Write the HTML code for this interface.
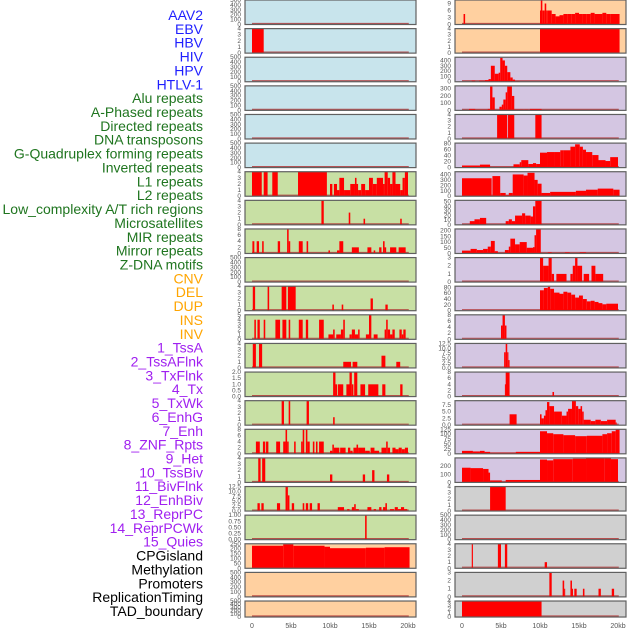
<!DOCTYPE html>
<html><head><meta charset="utf-8">
<style>
html,body{margin:0;padding:0;background:#fff;}
svg{display:block;font-family:"Liberation Sans",sans-serif;}
</style></head>
<body>
<svg id="chart" width="630" height="630" viewBox="0 0 630 630"></svg>
<script>
const labels = ["AAV2","EBV","HBV","HIV","HPV","HTLV-1","Alu repeats","A-Phased repeats","Directed repeats","DNA transposons","G-Quadruplex forming repeats","Inverted repeats","L1 repeats","L2 repeats","Low_complexity A/T rich regions","Microsatellites","MIR repeats","Mirror repeats","Z-DNA motifs","CNV","DEL","DUP","INS","INV","1_TssA","2_TssAFlnk","3_TxFlnk","4_Tx","5_TxWk","6_EnhG","7_Enh","8_ZNF_Rpts","9_Het","10_TssBiv","11_BivFlnk","12_EnhBiv","13_ReprPC","14_ReprPCWk","15_Quies","CPGisland","Methylation","Promoters","ReplicationTiming","TAD_boundary"];
const labelGroups = [0,0,0,0,0,0,1,1,1,1,1,1,1,1,1,1,1,1,1,2,2,2,2,2,3,3,3,3,3,3,3,3,3,3,3,3,3,3,3,4,4,4,4,4];
const groupColors = ["#1f1fff","#1f751f","#ffa500","#a020f0","#000000"];
const xTickKb = [0,5,10,15,20];
const xTickLabels = ["0","5kb","10kb","15kb","20kb"];
const emptyTicks = [0,100,200,300,400,500];
const ticks4 = [0,1,2,3,4];
const ticks8 = [0,2,4,6,8];

const segsL1 = [[0,1.5,4]];
const segsL6 = [[0,1.25,4],[1.5,2,4],[2.6,3.3,4],[5.9,9.6,4],[10,10.3,2],[10.5,10.9,2],[10.9,11.2,1],[11.2,11.8,3],[11.8,12.6,1],[12.6,13.2,2],[13.2,13.4,3],[13.4,13.6,2],[13.6,14,1],[14,14.5,2],[14.5,15,1],[15,15.5,3],[15.5,16,2],[16,16.8,3],[16.8,17,2],[17,17.4,4],[17.4,17.7,3],[17.7,18,2],[18,18.4,4],[18.4,19,2],[19,19.3,1],[19.3,19.6,3],[19.6,20,4]];
const segsL7 = [[8.9,9.2,4],[12.4,12.6,2],[14.3,14.5,1],[19,19.2,1]];
const segsL8 = [[0.05,0.3,4],[0.6,0.9,4],[1.3,1.5,4],[3.3,3.6,4],[4.5,4.7,8],[4.7,4.9,4],[6,6.5,4],[7,7.2,4],[9.8,10,1],[10.9,11.2,1],[11.2,11.7,4],[12.8,13.7,2],[14.8,15.3,2],[15.6,15.8,1],[16.3,16.6,2],[16.8,17,4],[17,17.2,2],[17.7,18.5,2],[18.8,19.7,2]];
const segsL10 = [[0.1,0.4,4],[2,2.2,4],[3.8,4.4,4],[4.6,5.6,4],[10.3,10.5,1],[11.5,11.7,1],[15.2,15.5,2],[17.1,17.4,1]];
const segsL11 = [[0.3,0.5,4],[0.7,1,4],[1.5,1.7,4],[3,3.6,4],[3.9,4.4,4],[4.7,4.9,4],[6,6.5,4],[6.9,7.2,4],[8.6,9.2,4],[9.8,10.4,1],[10.4,10.6,2],[10.8,11.4,1],[11.4,11.7,2],[11.7,11.9,4],[12.5,12.8,1],[12.8,13.2,2],[13.2,13.6,1],[13.6,13.8,2],[14.6,15,1],[15,15.3,5],[15.6,16.1,1],[17,17.2,2],[17.2,17.4,4],[17.4,17.7,2],[17.7,18,1],[18,18.3,2],[18.9,19.2,2],[19.2,19.4,1],[19.4,19.7,2]];
const segsL12 = [[0.1,0.5,4],[0.9,1.3,4],[11.7,12.7,1],[12.9,13.5,1],[16.6,17.1,2],[18.5,19,1]];
const segsL13 = [[10.4,10.7,2],[10.7,10.9,1],[11,11.7,1],[12.1,12.5,1],[12.5,12.8,2],[12.8,13,1],[13.1,13.5,2],[13.9,14.5,1],[14.9,16.2,1],[16.7,17.1,1],[19,19.3,1]];
const segsL14 = [[3.8,4.1,4],[4.7,4.9,4],[7,7.3,4],[10.4,10.6,1.3]];
const segsL15 = [[0.5,1,4],[1.4,1.7,4],[1.8,2.1,4],[3.1,3.6,4],[4,4.3,4],[4.3,4.5,8],[4.5,4.7,4],[5.4,5.6,4],[6.3,6.5,4],[6.5,6.7,8],[6.9,7.1,8],[7.1,7.4,4],[7.8,8,4],[8.2,8.4,4],[8.6,9.2,4],[10,10.3,1],[10.3,10.5,3],[10.5,11.2,2],[11.3,12,2],[12.3,12.6,2],[12.6,12.9,1],[13,13.4,2],[13.4,13.6,3],[13.6,14.5,2],[14.5,15.1,1],[15.2,15.7,2],[15.7,16.3,1],[16.6,17.2,2],[17.2,17.4,4],[17.4,17.7,2],[18,18.4,2],[18.4,18.8,1.5],[18.8,19.2,2],[19.2,19.6,1.5],[19.6,20,2]];
const segsL16 = [[0.8,1.1,4],[1.3,1.7,4],[10,10.3,1.3],[14.2,14.5,1.3],[15.4,15.7,2],[17.3,17.6,1.3]];
const segsL17 = [[0.7,1,4],[1.2,1.5,4],[3.2,3.6,4],[4.3,4.6,12.5],[4.6,4.8,8],[5.1,5.4,4],[6.5,6.7,4],[6.9,7.2,4],[7.4,7.7,4],[8.4,8.7,4],[11,11.8,2],[12.2,12.5,1],[12.8,13.1,2],[13.1,13.3,3.5],[13.3,13.7,1],[14.8,15.3,2],[15.6,15.9,1],[16.3,16.6,2],[16.8,17.1,2],[17.1,17.3,4],[17.7,18.2,1],[18.3,18.7,2],[18.7,19.1,1],[19.1,19.5,2],[19.5,19.9,1]];
const segsL18 = [[14.5,14.7,1]];
const segsL19 = [[0,4,230],[4,5.3,245],[5.3,9.3,230],[9.3,10,220],[10,14.6,205],[14.6,15,210],[15,17,210],[17,20.2,215]];

const segsR0 = [[0.2,0.4,4.5],[10,10.1,6],[10.1,10.3,10.5],[10.3,10.6,6],[10.6,10.8,9],[10.8,11,6],[11,11.5,6],[11.5,12,4.5],[12,12.5,3.5],[12.5,13,4],[13,13.5,4.5],[13.5,14,4.5],[14,14.5,4.5],[14.5,15,5],[15,15.5,4.5],[15.5,16,4.5],[16,16.5,4.5],[16.5,17,5],[17,17.5,4.5],[17.5,18,4.5],[18,18.5,5],[18.5,19,4.5],[19,20.2,4.5]];
const segsR1 = [[10,20.2,4]];
const segsR2 = [[1.25,1.7,20],[2.2,2.95,20],[2.95,3.4,30],[3.4,3.7,50],[3.7,4.2,300],[4.2,4.7,150],[4.7,4.9,170],[4.9,5.2,450],[5.2,5.5,400],[5.5,5.8,300],[5.8,6.2,180],[6.2,6.5,80],[6.5,6.8,40],[6.8,7.4,15]];
const segsR3 = [[0.9,1.7,20],[1.7,3.3,10],[3.3,3.6,20],[3.6,3.9,330],[3.9,4.2,180],[4.8,5.1,50],[5.1,5.3,80],[5.3,5.6,150],[5.6,5.8,250],[5.8,6.4,330],[6.4,6.7,200],[6.7,7.9,10],[8,8.5,10],[8.7,10.2,20]];
const segsR4 = [[4.5,5.8,4],[5.9,6.7,4],[9.4,10.2,4]];
const segsR5 = [[0,2.3,7],[2.3,3.6,10],[6.6,7.4,11],[7.4,7.6,18],[7.6,8.5,25],[8.5,9.1,12],[9.1,9.5,15],[9.5,10,12],[10,10.9,50],[10.9,11.8,52],[11.8,12.6,52],[12.6,13,58],[13,13.9,58],[13.9,14.5,70],[14.5,15.1,78],[15.1,15.5,70],[15.5,15.9,60],[15.9,16.7,52],[16.7,17.5,42],[17.5,18.4,25],[18.4,19,22],[19,20,35]];
const segsR6 = [[0,3.8,330],[3.9,4.9,370],[4.9,5.6,60],[5.6,6,20],[6,6.5,60],[6.5,7.9,400],[7.9,8.4,380],[8.4,9.3,430],[9.3,9.7,300],[9.7,10.2,230],[10.2,11.3,60],[11.3,14.6,80],[14.6,15.9,100],[15.9,17.4,120],[17.4,19.4,140],[19.4,20.2,120]];
const segsR7 = [[1,1.6,8],[1.6,2.3,12],[2.3,3.1,15],[5.6,6,8],[6,6.4,12],[6.4,6.8,8],[6.8,7.7,20],[7.7,8.1,25],[8.1,8.8,20],[8.8,9.1,18],[9.1,9.4,40],[9.4,10.2,52]];
const segsR8 = [[0,1.1,25],[1.1,1.9,40],[1.9,2.7,30],[2.7,3.3,40],[3.3,3.7,60],[3.7,4.2,110],[4.2,4.6,20],[5.5,6,30],[6,6.2,60],[6.2,6.8,130],[6.8,7.4,80],[7.4,8.3,100],[8.3,9.1,50],[9.1,9.3,55],[9.3,9.5,160],[9.5,10.1,210],[11,11.5,10],[13.2,13.8,10],[15.1,15.9,10]];
const segsR9 = [[10,10.4,3],[10.4,11.1,2],[11.1,11.5,3],[11.5,11.8,1],[12.1,13.4,1],[13.9,14.2,1],[14.2,14.5,2],[14.5,14.8,3],[14.8,15.4,2],[15.6,16.3,1],[16.6,17.1,2],[17.1,18.1,1]];
const segsR10 = [[10,10.5,70],[10.5,11,78],[11,11.3,82],[11.3,11.8,75],[11.8,12.5,62],[12.5,13,58],[13,13.5,65],[13.5,14,62],[14,14.5,55],[14.5,15,45],[15,15.5,52],[15.5,16,40],[16,16.5,32],[16.5,17,34],[17,17.5,30],[17.5,18,26],[18,18.5,22],[18.5,20,24]];
const segsR11 = [[5,5.2,4.5],[5.2,5.5,8],[5.5,5.7,4.5]];
const segsR12 = [[5.4,5.6,8],[5.6,5.8,12.5],[5.8,5.95,8],[5.95,6.1,4]];
const segsR13 = [[5.5,5.6,4],[5.6,6.1,8],[11.6,11.8,1.5]];
const segsR14 = [[6.1,7,4],[10,10.2,4],[10.2,10.5,2.5],[10.5,10.7,3.5],[10.7,10.9,5.5],[10.9,11.2,8.5],[11.2,11.8,7],[11.8,12.8,5],[12.8,13.4,3.5],[13.4,13.6,5],[13.6,14.1,6],[14.1,14.6,9],[14.6,14.9,7],[14.9,15.2,6],[15.2,15.4,7],[15.4,15.6,5],[15.6,16.5,2],[16.5,17.1,1.5],[17.1,17.8,2],[17.8,18.6,1.5],[18.6,19.7,2],[19.7,19.8,1]];
const segsR15 = [[0,1.4,15],[1.4,2.3,12],[2.3,2.9,15],[2.9,3.6,10],[3.6,6.9,5],[6.9,10,10],[10,10.9,115],[10.9,11.7,105],[11.7,13,100],[13,14.5,95],[14.5,16,90],[16,18,92],[18,18.6,100],[18.6,19.2,105],[19.2,19.7,115],[19.7,20.2,125]];
const segsR16 = [[0,1.1,180],[1.1,2.7,175],[2.7,3.4,165],[3.4,3.6,120],[3.6,5.1,25],[5.1,5.6,5],[5.6,10,30],[10,10.9,280],[10.9,11.7,270],[11.7,14.2,285],[14.2,15.9,290],[15.9,18.3,300],[18.3,19.1,305],[19.1,20,285]];
const segsR17 = [[3.6,5.6,4]];
const segsR19 = [[1.25,1.4,4],[4.6,5,4],[5.5,5.8,4],[10.6,10.9,1]];
const segsR20 = [[11.2,11.5,3],[12.9,13.1,2],[13.1,13.2,1],[13.9,14.1,2],[14.1,14.2,1],[14.4,14.7,1],[15.5,15.7,1],[17.5,17.8,1],[19.2,19.5,1]];
const segsR21 = [[0,10.2,4]];

const BLUE="#c8e4ec", GREEN="#c8e0a4", PEACH="#ffd0a0", LAV="#d4c6e2", GRAY="#d0d0d0";
const panels = [
 [0,0,BLUE,emptyTicks,500,[]],[0,1,BLUE,ticks4,4,segsL1],[0,2,BLUE,emptyTicks,500,[]],[0,3,BLUE,emptyTicks,500,[]],[0,4,BLUE,emptyTicks,500,[]],[0,5,BLUE,emptyTicks,500,[]],
 [0,6,GREEN,ticks4,4,segsL6],[0,7,GREEN,ticks4,4,segsL7],[0,8,GREEN,ticks8,8,segsL8],[0,9,GREEN,emptyTicks,500,[]],[0,10,GREEN,ticks4,4,segsL10],
 [0,11,GREEN,[0,1,2,3,4,5],5,segsL11],[0,12,GREEN,ticks4,4,segsL12],[0,13,GREEN,[0,0.5,1,1.5,2],2,segsL13],[0,14,GREEN,ticks4,4,segsL14],[0,15,GREEN,ticks8,8,segsL15],
 [0,16,GREEN,ticks4,4,segsL16],[0,17,GREEN,[0,2.5,5,7.5,10,12.5],12.5,segsL17],[0,18,GREEN,[0,0.25,0.5,0.75,1],1,segsL18],
 [0,19,PEACH,[0,50,100,150,200,250],250,segsL19],[0,20,PEACH,emptyTicks,500,[]],[0,21,PEACH,emptyTicks,500,[]],
 [1,0,PEACH,[0,3,6,9],10.5,segsR0],[1,1,PEACH,ticks4,4,segsR1],[1,2,LAV,[0,100,200,300,400],460,segsR2],[1,3,LAV,[0,100,200,300],340,segsR3],
 [1,4,LAV,ticks4,4,segsR4],[1,5,LAV,[0,20,40,60,80],82,segsR5],[1,6,LAV,[0,100,200,300,400],450,segsR6],[1,7,LAV,[0,10,20,30,40,50],53,segsR7],
 [1,8,LAV,[0,50,100,150,200],215,segsR8],[1,9,LAV,[0,1,2,3],3,segsR9],[1,10,LAV,[0,20,40,60,80],84,segsR10],[1,11,LAV,ticks8,8,segsR11],
 [1,12,LAV,[0,2.5,5,7.5,10,12.5],12.5,segsR12],[1,13,LAV,ticks8,8,segsR13],[1,14,LAV,[0,2.5,5,7.5],9,segsR14],[1,15,LAV,[0,25,50,75,100,125],125,segsR15],
 [1,16,LAV,[0,100,200],300,segsR16],[1,17,GRAY,ticks4,4,segsR17],[1,18,GRAY,emptyTicks,500,[]],[1,19,GRAY,ticks4,4,segsR19],[1,20,GRAY,[0,1,2,3],3,segsR20],[1,21,GRAY,ticks4,4,segsR21]
];

const NS="http://www.w3.org/2000/svg";
const svg=document.getElementById('chart');
function mk(tag,attrs,parent){const e=document.createElementNS(NS,tag);for(const k in attrs)e.setAttribute(k,attrs[k]);(parent||svg).appendChild(e);return e;}
const colX=[245,455], colW=171, zeroX=[252,462], pxPerKb=7.8;
function xScale(col,kb){return zeroX[col]+kb*pxPerKb;}
function panelTop(row){return row*28.62;}
function panelH(row){return row===21?16:24.5;}
function decimals(v){const s=String(v);const i=s.indexOf('.');return i<0?0:s.length-i-1;}

labels.forEach((t,i)=>{
  const e=mk('text',{x:203,y:15+i*13.86+5,'text-anchor':'end','font-size':'14',fill:groupColors[labelGroups[i]]});
  e.textContent=t;
  
  
});

panels.forEach(p=>{
  const [col,row,bg,tks,ymax,segs]=p;
  const top=panelTop(row), h=panelH(row), bot=top+h;
  const g=mk('g',{});
  
  
  mk('rect',{x:colX[col],y:top,width:colW,height:h,fill:bg},g);
  const y=v=>bot-(v/ymax)*h;
  mk('line',{x1:xScale(col,0),x2:xScale(col,20.1),y1:bot-1,y2:bot-1,stroke:'#b03030','stroke-width':1.2,opacity:0.8},g);
  segs.forEach(s=>{
    const r=mk('rect',{x:xScale(col,s[0]),y:y(Math.min(s[2],ymax)),width:Math.max(1,(s[1]-s[0])*pxPerKb),height:bot-y(Math.min(s[2],ymax)),fill:'#ff0000'},g);
    
    
  });
  mk('rect',{x:colX[col],y:top,width:colW,height:h,fill:'none',stroke:'#606060','stroke-width':1.2},g);
  const dec=Math.max(...tks.map(decimals));
  tks.forEach(tv=>{
    const t=mk('text',{x:colX[col]-4,y:y(tv)+2,'text-anchor':'end','font-size':'6.5',fill:'#555'},g);
    t.textContent=tv.toFixed(dec);
    
    
  });
});

[0,1].forEach(col=>{
  xTickKb.forEach((kb,i)=>{
    const t=mk('text',{x:xScale(col,kb),y:628,'text-anchor':'middle','font-size':'7',fill:'#555'});
    t.textContent=xTickLabels[i];
    
    
  });
});
</script>
</body></html>
